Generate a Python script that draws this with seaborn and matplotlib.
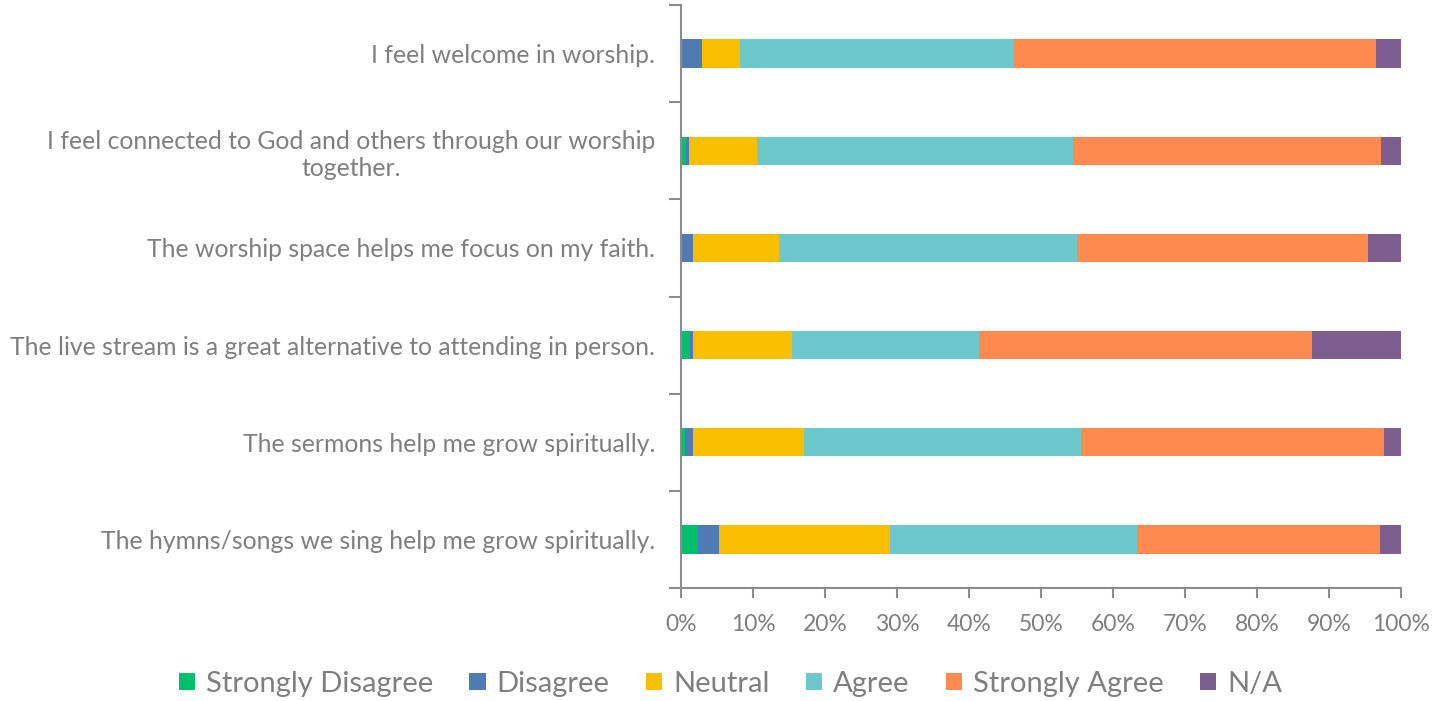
import matplotlib
matplotlib.use("Agg")
import matplotlib.pyplot as plt
import seaborn as sns
import numpy as np
import pandas as pd
from matplotlib.patches import Patch
from matplotlib.ticker import PercentFormatter, FixedLocator

categories = [
    "I feel welcome in worship.",
    "I feel connected to God and others through our worship\ntogether.",
    "The worship space helps me focus on my faith.",
    "The live stream is a great alternative to attending in person.",
    "The sermons help me grow spiritually.",
    "The hymns/songs we sing help me grow spiritually.",
]
series_names = ["Strongly Disagree", "Disagree", "Neutral", "Agree", "Strongly Agree", "N/A"]
strongly_disagree = [0.0, 0.7, 0.0, 1.2, 0.6, 2.3]
disagree = [2.9, 0.4, 1.7, 0.5, 1.1, 3.0]
neutral = [5.3, 9.5, 11.9, 13.7, 15.4, 23.7]
agree = [38.0, 43.9, 41.4, 26.0, 38.5, 34.4]
strongly_agree = [50.3, 42.7, 40.4, 46.2, 42.1, 33.7]
not_applicable = [3.5, 2.8, 4.6, 12.4, 2.3, 2.9]
colors = ["#00C06C", "#4F7BB5", "#F9BE00", "#6CC8CC", "#FF8A4F", "#7E5E8F"]

values = np.array([strongly_disagree, disagree, neutral, agree, strongly_agree, not_applicable])
cum = np.cumsum(values, axis=0)

sns.set_theme(style="white")
plt.rcParams["font.family"] = ["Lato", "DejaVu Sans"]
text_color = "#7F7F7F"
spine_color = "#8C8C8C"

fig = plt.figure(figsize=(14.41, 7.01), dpi=100)
ax = fig.add_axes([681 / 1441, 1 - 588 / 701, 720 / 1441, 583 / 701])

for i in range(len(series_names) - 1, -1, -1):
    df = pd.DataFrame({"cat": categories, "val": cum[i]})
    sns.barplot(data=df, x="val", y="cat", orient="h", color=colors[i],
                width=0.29, saturation=1, ax=ax, linewidth=0)

ax.set_xlim(0, 100)
ax.set_ylim(5.5, -0.5)
ax.set_xlabel("")
ax.set_ylabel("")
ax.xaxis.set_major_locator(FixedLocator(np.arange(0, 101, 10)))
ax.xaxis.set_major_formatter(PercentFormatter(decimals=0))

for s in ["top", "right"]:
    ax.spines[s].set_visible(False)
for s in ["left", "bottom"]:
    ax.spines[s].set_color(spine_color)
    ax.spines[s].set_linewidth(1.5)

ax.tick_params(axis="x", which="major", direction="out", length=7, width=1.5,
               color=spine_color, labelcolor=text_color, labelsize=16.5, pad=12, bottom=True)
ax.tick_params(axis="y", which="major", length=0, labelcolor=text_color, labelsize=17.8, pad=18.5, left=False)
ax.yaxis.set_minor_locator(FixedLocator(np.arange(-0.5, 6.0, 1.0)))
ax.tick_params(axis="y", which="minor", direction="out", length=9, width=1.5, color=spine_color, left=True)

for lbl in ax.get_yticklabels():
    lbl.set_multialignment("center")
    lbl.set_linespacing(1.25)

handles = [Patch(facecolor=c, edgecolor="none") for c in colors]
fig.legend(handles, series_names, loc="center", bbox_to_anchor=(0.507, 1 - 684 / 701),
           ncol=6, frameon=False, fontsize=21, labelcolor=text_color,
           handlelength=0.55, handleheight=0.55, handletextpad=0.38, columnspacing=1.25)

fig.savefig("out.png", dpi=100)
